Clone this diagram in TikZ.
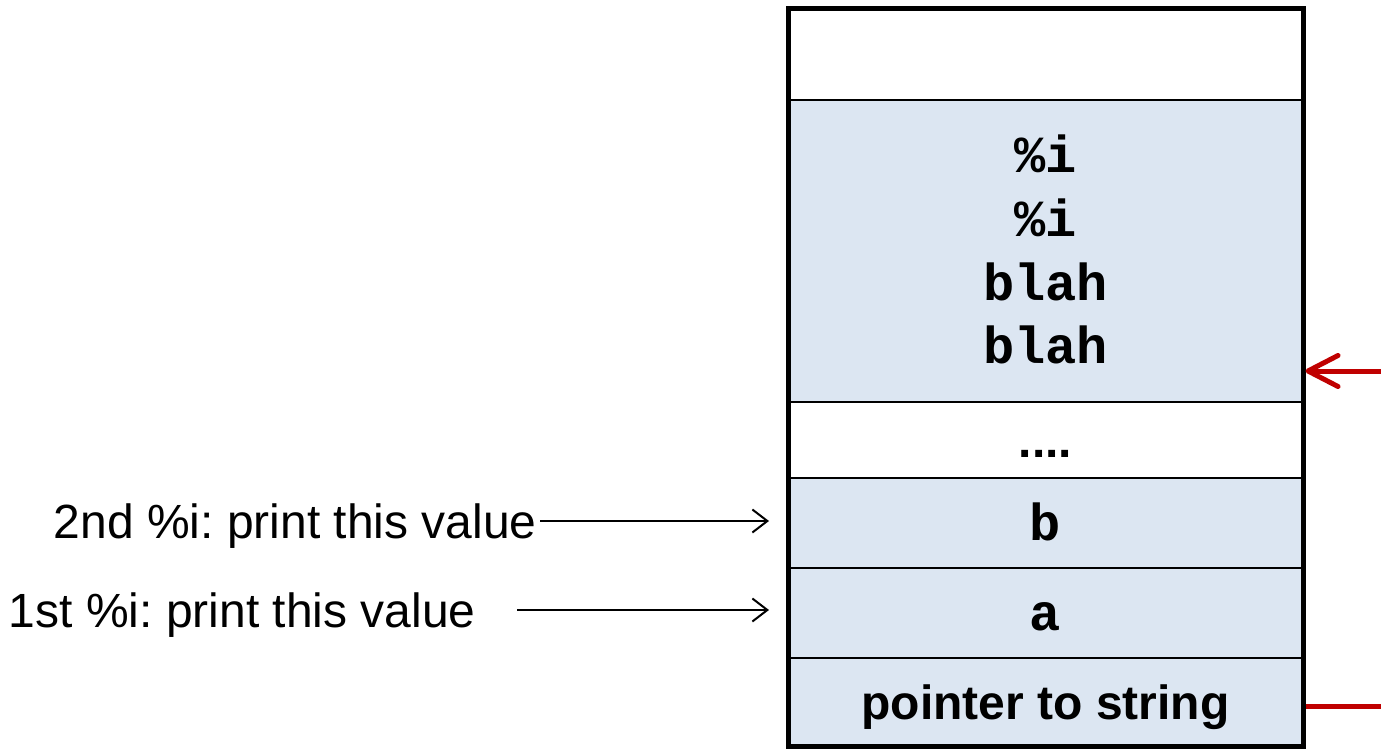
\documentclass[tikz,border=0pt]{standalone}
\usepackage{fontspec}
\setmainfont{Liberation Sans}
\setmonofont{Liberation Mono}
\usetikzlibrary{arrows.meta}
\definecolor{cellblue}{HTML}{DCE6F2}
\definecolor{ptrred}{HTML}{C00000}
\frenchspacing
\tikzset{
  cell/.style={draw=black, line width=1pt, minimum width=257.5pt, inner sep=0pt,
               text height=17pt, text depth=0pt},
  bluecell/.style={cell, fill=cellblue},
  codetext/.style={font=\fontsize{26}{30}\selectfont\ttfamily\bfseries},
  celltext/.style={font=\fontsize{24}{28}\selectfont\bfseries},
  sidelabel/.style={font=\fontsize{24}{28}\selectfont, inner sep=0pt,
                    text height=17.2pt, text depth=0pt, anchor=east},
  thinarrow/.style={line width=1pt, -{Straight Barb[length=7.5pt,width=11.5pt]}},
  redarrow/.style={draw=ptrred, line width=2.5pt, line cap=round,
                   -{Straight Barb[length=15pt,width=15.5pt,round]}},
  redline/.style={draw=ptrred, line width=2.5pt},
  frame/.style={draw=black, line width=2.5pt, minimum width=257.5pt,
                minimum height=368.5pt, inner sep=0pt}
}
\begin{document}
\begin{tikzpicture}[x=0.5pt,y=-0.5pt]
\useasboundingbox (0,0) rectangle (1381,749);

% stack cells, top to bottom
\node[cell, minimum height=45.5pt] (top) at (1045.5,54.5) {};
\node[bluecell, minimum height=151pt] (fmt) at (1045.5,251) {};
\node[cell, minimum height=38pt, celltext] (gap) at (1045.5,440) {....};
\node[bluecell, minimum height=45pt, codetext] (bcell) at (1045.5,523) {b};
\node[bluecell, minimum height=45pt, codetext] (acell) at (1045.5,613) {a};
\node[bluecell, minimum height=44pt, celltext] (ptr) at (1045.5,702) {pointer to string};

% format string contents
\node[codetext, anchor=base, inner sep=0pt] (f1) at (1045.5,172) {\%i};
\node[codetext, anchor=base, inner sep=0pt] (f2) at (1045.5,236) {\%i};
\node[codetext, anchor=base, inner sep=0pt] (f3) at (1045.5,300) {blah};
\node[codetext, anchor=base, inner sep=0pt] (f4) at (1045.5,363) {blah};

% heavy outline of the whole stack
\node[frame] (stack) at (1045.5,377.5) {};

% side labels
\node[sidelabel] (lab2) at (537,521) {2nd \%i: print this value};
\node[sidelabel] (lab1) at (476,610) {1st \%i: print this value};
\draw[thinarrow, shorten <=1.5pt, shorten >=9pt] (lab2.east) -- (lab2.east -| bcell.west);
\draw[thinarrow, shorten <=20.5pt, shorten >=9pt] (lab1.east) -- (lab1.east -| acell.west);

% red pointer
\coordinate (rsrc) at (1381,371);
\coordinate (pend) at (1381,706);
\draw[redarrow] (rsrc) -- (rsrc -| stack.east);
\draw[redline] (pend -| stack.east) -- (pend);
\end{tikzpicture}
\end{document}
